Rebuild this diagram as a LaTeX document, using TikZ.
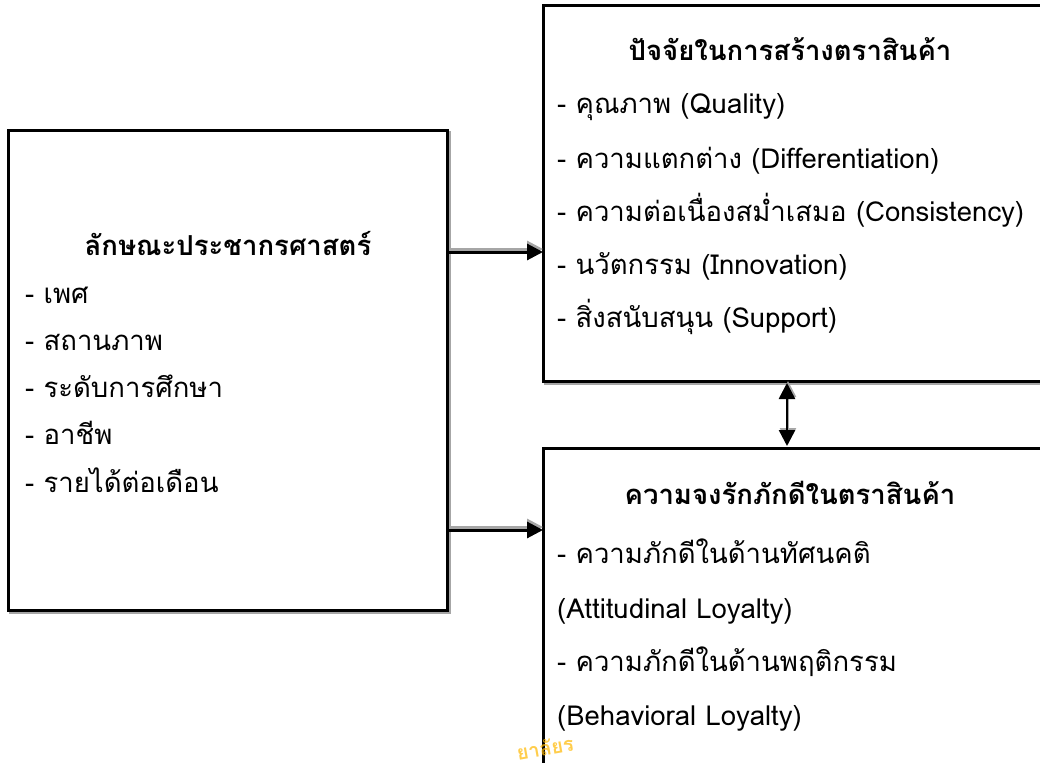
\documentclass[tikz,border=0pt]{standalone}
\usepackage{fontspec}
\newfontfamily\thai[Script=Thai]{Loma}
\usetikzlibrary{arrows.meta}
\tikzset{
  box/.style={draw=black, line width=3pt, fill=white},
  boxshadow/.style={draw=black!35, line width=3pt},
  txt/.style={anchor=base west, inner sep=0pt, font=\thai\fontsize{27.5}{32}\selectfont},
  ttl/.style={anchor=base, inner sep=0pt, font=\thai\bfseries\fontsize{27.5}{32}\selectfont},
  arr/.style={line width=3pt, -{Triangle[length=16pt,width=16pt]}},
  arrshadow/.style={line width=3pt, draw=black!35, -{Triangle[length=16pt,width=16pt]}},
  darr/.style={line width=2.5pt, {Triangle[length=16pt,width=16pt]}-{Triangle[length=16pt,width=16pt]}},
  darrshadow/.style={line width=2.5pt, draw=black!35, {Triangle[length=16pt,width=16pt]}-{Triangle[length=16pt,width=16pt]}},
}
\begin{document}
\begin{tikzpicture}[x=1pt,y=-1pt]
\fill[white] (0,0) rectangle (1040,762);
\useasboundingbox (0,0) rectangle (1040,762);
\clip (0,0) rectangle (1040,762);
% boxes
\draw[boxshadow] (10,133) rectangle (449,612);
\draw[box] (8,131) rectangle (447,610);
\draw[boxshadow] (545,8) rectangle (1050,383);
\draw[box] (543,6) rectangle (1050,381);
\draw[boxshadow] (545,450) rectangle (1050,800);
\draw[box] (543,448) rectangle (1050,800);
% watermark
\node[inner sep=0pt, rotate=10, text=orange!55!yellow, opacity=0.7, font=\thai\bfseries\fontsize{20}{22}\selectfont] (wm) at (545,748) {ยาลัยร};
\coordinate (L1) at (449,252); \coordinate (R1) at (543,252);
\coordinate (L2) at (449,530); \coordinate (R2) at (543,530);
\coordinate (T) at (787,383); \coordinate (B) at (787,446);
\draw[arrshadow] ([yshift=3pt]L1) -- ([yshift=3pt]R1);
\draw[arr] (L1) -- (R1);
\draw[arrshadow] ([yshift=3pt]L2) -- ([yshift=3pt]R2);
\draw[arr] (L2) -- (R2);
\draw[darrshadow] ([xshift=1pt,yshift=2pt]T) -- ([xshift=1pt,yshift=2pt]B);
\draw[darr] (T) -- (B);
% left box text
\node[ttl] (lt) at (228,255) {ลักษณะประชากรศาสตร์};
\node[txt] (l1) at (25,303) {- เพศ};
\node[txt] (l2) at (25,350) {- สถานภาพ};
\node[txt] (l3) at (25,397) {- ระดับการศึกษา};
\node[txt] (l4) at (25,444) {- อาชีพ};
\node[txt] (l5) at (25,492) {- รายได้ต่อเดือน};
% top right
\node[ttl] (rt) at (790,61) {ปัจจัยในการสร้างตราสินค้า};
\node[txt] (r1) at (557,114) {- คุณภาพ (Quality)};
\node[txt] (r2) at (557,168) {- ความแตกต่าง (Differentiation)};
\node[txt] (r3) at (557,221) {- ความต่อเนื่องสม่ำเสมอ (Consistency)};
\node[txt] (r4) at (557,274) {- นวัตกรรม (Innovation)};
\node[txt] (r5) at (557,327) {- สิ่งสนับสนุน (Support)};
% bottom right
\node[ttl] (bt) at (790,504) {ความจงรักภักดีในตราสินค้า};
\node[txt] (b1) at (557,563) {- ความภักดีในด้านทัศนคติ};
\node[txt] (b2) at (557,618) {(Attitudinal Loyalty)};
\node[txt] (b3) at (557,671) {- ความภักดีในด้านพฤติกรรม};
\node[txt] (b4) at (557,725) {(Behavioral Loyalty)};
\end{tikzpicture}
\end{document}
